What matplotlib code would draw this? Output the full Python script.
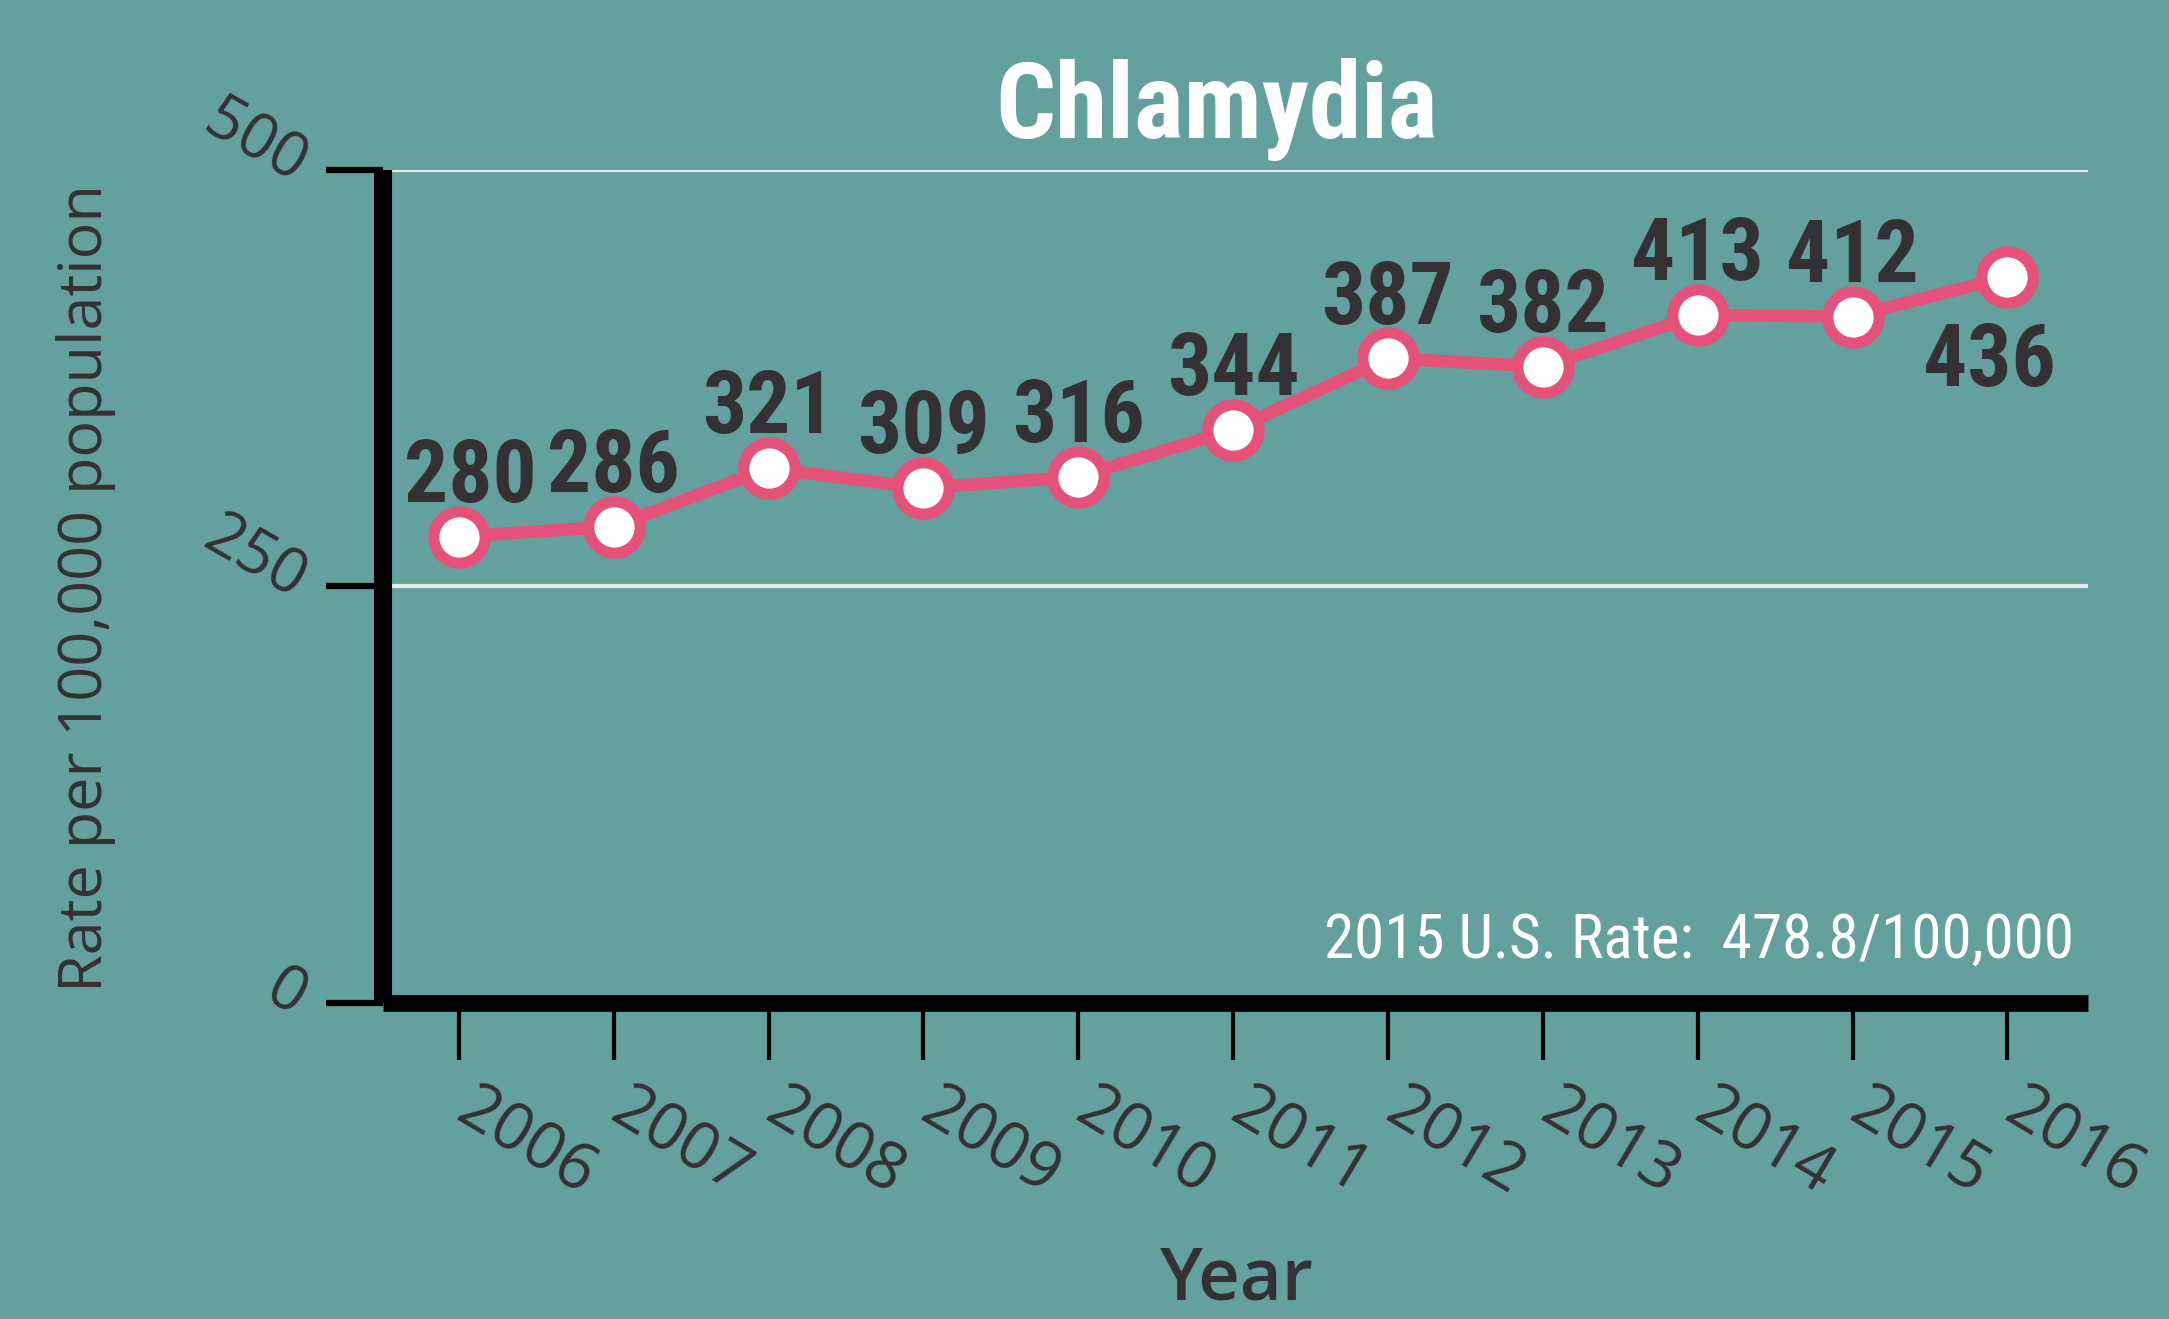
import matplotlib.pyplot as plt
from matplotlib import font_manager
from matplotlib.transforms import ScaledTranslation

# Data
years = [2006, 2007, 2008, 2009, 2010, 2011, 2012, 2013, 2014, 2015, 2016]
rates = [280, 286, 321, 309, 316, 344, 387, 382, 413, 412, 436]
y_ticks = [0, 250, 500]
y_tick_labels = ['0', '250', '500']

title = 'Chlamydia'
y_label = 'Rate per 100,000 population'
x_label = 'Year'
us_note = '2015 U.S. Rate:  478.8/100,000'

# Colours
BG = '#63A09E'
PINK = '#E4527B'
DARK = '#333133'
GRID = '#E4ECEC'

# Fonts (pick a narrow face if one is installed)
installed = {f.name for f in font_manager.fontManager.ttflist}


def pick(*names):
    for n in names:
        if n in installed:
            return n
    return 'DejaVu Sans'


NARROW = pick('Liberation Sans Narrow', 'Roboto Condensed', 'Roboto')
BODY = pick('Open Sans', 'Noto Sans', 'DejaVu Sans')

fig = plt.figure(figsize=(21.69, 13.19), dpi=100, facecolor=BG)
ax = fig.add_axes([0.1766, 0.2396, 0.786, 0.6315])
ax.set_facecolor(BG)

ax.plot(years, rates, color=PINK, lw=9, marker='o', ms=37,
        mfc='white', mec=PINK, mew=8, zorder=3, clip_on=False)

# value labels
for yr, v in zip(years, rates):
    dx, dy = 0, 25
    if yr == years[0]:
        dx = 8
    if yr == years[-1]:
        dx, dy = -13, -79
    ax.annotate(str(v), (yr, v), xytext=(dx, dy), textcoords='offset points',
                ha='center', va='baseline', fontsize=63, fontweight='bold',
                family=[NARROW, 'DejaVu Sans'], color=DARK, zorder=4)

ax.set_xlim(2005.51, 2016.52)
ax.set_ylim(0, 500)

# spines
for s in ['top', 'right']:
    ax.spines[s].set_visible(False)
ax.spines['left'].set_linewidth(13)
ax.spines['bottom'].set_linewidth(12)
for s in ['left', 'bottom']:
    ax.spines[s].set_color('black')
    ax.spines[s].set_zorder(5)
    ax.spines[s].set_capstyle('butt')

# grid
ax.set_yticks(y_ticks)
ax.set_yticklabels(y_tick_labels)
ax.yaxis.grid(True, color=GRID, lw=3)
ax.set_axisbelow(True)

ax.set_xticks(years)
ax.set_xticklabels([str(y) for y in years])

ax.tick_params(axis='x', length=41, width=3, color='black', pad=12,
               labelsize=47, labelcolor=DARK)
ax.tick_params(axis='y', length=41, width=4.5, color='black', pad=18,
               labelsize=45, labelcolor=DARK)

for lab in ax.get_xticklabels():
    lab.set_family(BODY)
    lab.set_fontweight('medium')
    lab.set_rotation(-31)
    lab.set_rotation_mode('anchor')
    lab.set_ha('left')
    lab.set_va('top')
    lab.set_transform(lab.get_transform() +
                      ScaledTranslation(14 / 72, 0, fig.dpi_scale_trans))

for lab in ax.get_yticklabels():
    lab.set_family(BODY)
    lab.set_fontweight('medium')
    lab.set_rotation(-30)
    lab.set_rotation_mode('anchor')
    lab.set_ha('right')
    lab.set_va('center')

# axis labels
ax.set_ylabel(y_label, fontsize=44, color=DARK, family=BODY, fontweight='medium')
ax.yaxis.label.set_va('center')
ax.yaxis.set_label_coords(-0.174, 0.498)

ax.set_xlabel(x_label, fontsize=52, color=DARK, family=BODY, fontweight='semibold')
ax.xaxis.label.set_va('baseline')
ax.xaxis.set_label_coords(0.501, (1003 - 1300) / 833)

# title and note
fig.text(0.561, 1 - 138 / 1319, title, ha='center', va='baseline',
         fontsize=76, fontweight='bold', color='white',
         family=[NARROW, 'DejaVu Sans'])
ax.text(0.992, 0.054, us_note, transform=ax.transAxes, ha='right', va='baseline',
        fontsize=44, color='white', family=[NARROW, 'DejaVu Sans'])

fig.savefig('out.png', dpi=100, facecolor=BG)
